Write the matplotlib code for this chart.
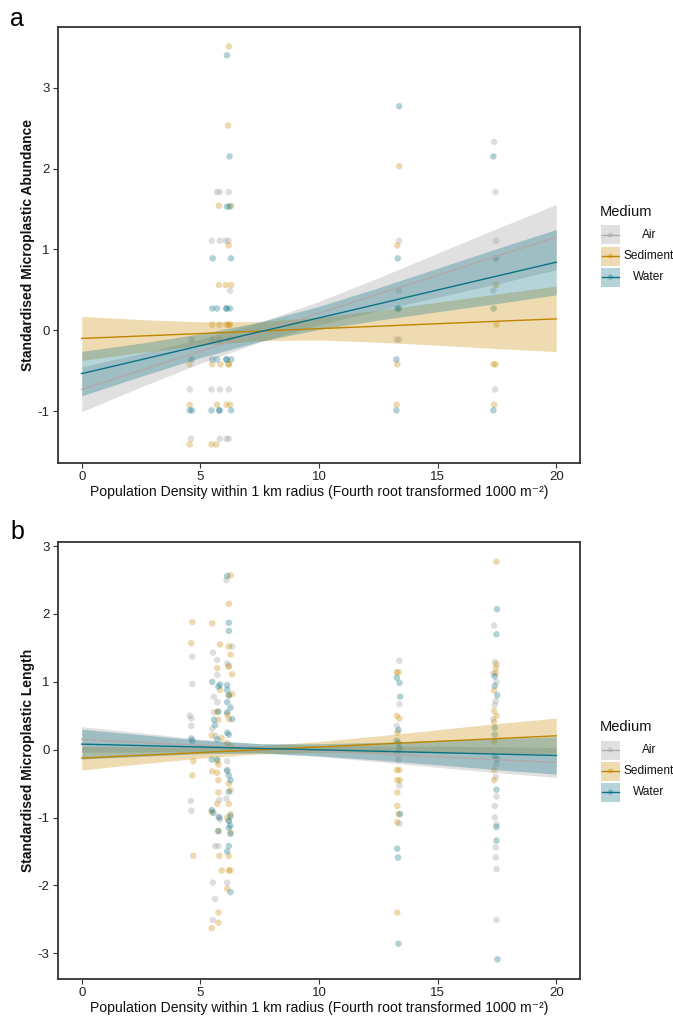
import matplotlib
matplotlib.use('Agg')
from matplotlib import pyplot as plt
from matplotlib.patches import Rectangle
import numpy as np

plt.rcParams['font.family'] = ['Liberation Sans', 'DejaVu Sans']
plt.rcParams['axes.unicode_minus'] = False  # plain hyphens like the original

# media and their colours
media = ['Air', 'Sediment', 'Water']
fill_cols = {'Air': '#999999', 'Sediment': '#C98A00', 'Water': '#0B7285'}
line_cols = {'Air': '#B3A8A8', 'Sediment': '#BF8500', 'Water': '#0A7385'}

xlabel = 'Population Density within 1 km radius (Fourth root transformed 1000 m\u207b\u00b2)'

# ---- panel a: abundance points ----
a_air_x = [5.70, 5.82, 6.19, 5.48, 5.82, 6.07, 6.19, 6.25, 4.63, 5.50, 5.80, 6.25,
           4.55, 5.47, 5.82, 6.20, 4.60, 5.82, 6.10, 6.20,
           17.38, 17.44, 13.37, 17.46, 13.36, 17.35, 13.27, 13.38, 17.42]
a_air_y = [1.71, 1.71, 1.71, 1.107, 1.107, 1.107, 1.107, 0.49, -0.115, -0.115, -0.115, -0.115,
           -0.73, -0.73, -0.73, -0.73, -1.34, -1.34, -1.34, -1.34,
           2.33, 1.71, 1.107, 1.107, 0.49, 0.49, -0.115, -0.115, -0.73]
a_sed_x = [6.20, 6.17, 5.78, 6.30, 6.19, 5.78, 6.07, 6.30, 5.50, 5.80, 6.10, 6.25, 6.20,
           4.55, 5.50, 5.85, 6.20, 6.20, 4.55, 5.70, 6.10, 6.25, 4.55, 5.47, 5.67,
           13.38, 13.30, 17.46, 17.48, 13.30, 17.36, 17.44, 13.27, 17.38]
a_sed_y = [3.51, 2.53, 1.54, 1.54, 1.05, 0.56, 0.56, 0.56, 0.07, 0.07, 0.07, 0.07, 0.07,
           -0.42, -0.42, -0.42, -0.42, -0.42, -0.92, -0.92, -0.92, -0.92, -1.41, -1.41, -1.41,
           2.03, 1.05, 0.56, 0.07, -0.42, -0.42, -0.42, -0.92, -0.92]
a_wat_x = [6.12, 6.23, 6.12, 6.23, 5.52, 6.29, 5.50, 5.70, 6.10, 6.25, 6.10,
           4.63, 5.50, 5.70, 6.10, 6.30, 6.10, 4.55, 4.65, 5.47, 5.80, 6.30, 5.80,
           13.38, 17.35, 13.32, 17.46, 13.30, 13.37, 17.36, 13.26, 13.26, 17.35]
a_wat_y = [3.40, 2.15, 1.53, 1.53, 0.89, 0.89, 0.27, 0.27, 0.27, 0.27, 0.27,
           -0.36, -0.36, -0.36, -0.36, -0.36, -0.36, -0.99, -0.99, -0.99, -0.99, -0.99, -0.99,
           2.77, 2.15, 0.89, 0.89, 0.27, 0.27, 0.27, -0.36, -0.99, -0.99]

# ---- panel b: length points ----
b_air_x = [4.66, 4.66, 4.55, 4.62, 4.62, 4.60, 4.62,
           6.10, 5.53, 6.34, 5.71, 6.13, 6.20, 5.71, 5.57, 5.71, 5.57, 5.50, 5.65, 6.13, 6.13,
           5.80, 6.10, 5.76, 5.83, 6.20, 5.62, 5.76, 5.52, 6.13, 5.62, 5.52,
           13.39, 13.39, 13.28, 13.30, 13.35, 13.39, 13.39,
           17.38, 17.41, 17.35, 17.48, 17.45, 17.41, 17.35, 17.48, 17.45, 17.48, 17.41,
           17.41, 17.48, 17.45, 17.45, 17.48, 17.48]
b_air_y = [1.37, 0.965, 0.50, 0.46, 0.35, -0.755, -0.90,
           2.50, 1.43, 1.52, 1.32, 1.27, 1.24, 1.10, 0.78, 0.70, 0.55, 0.31, 0.20, -0.17, -0.32,
           -0.74, -0.72, -0.99, -1.03, -1.05, -1.42, -1.42, -1.96, -1.96, -2.20, -2.51,
           1.31, 0.67, 0.35, -0.05, -0.15, -0.53, -1.09,
           1.83, 1.29, 1.12, 1.00, 0.72, 0.66, 0.45, -0.21, -0.40, -0.69, -0.83,
           -1.00, -1.10, -1.44, -1.59, -1.76, -2.51]
b_sed_x = [4.66, 4.62, 4.70, 4.66, 4.70,
           6.27, 6.20, 5.50, 5.83, 6.20, 6.27, 6.20, 5.71, 6.34, 5.83, 6.20, 6.34, 5.71, 6.13,
           6.20, 5.76, 5.48, 5.90, 6.13, 6.27, 5.71, 5.76, 5.50, 5.76, 5.71, 6.20, 6.27, 5.76,
           5.71, 5.48, 6.20, 6.27, 6.13, 5.76, 6.27, 5.80, 6.20, 5.90, 6.20, 6.27, 6.13, 5.76,
           5.76, 5.48,
           13.28, 13.35, 13.28, 13.39, 13.30, 13.28, 13.39, 13.30, 13.41, 13.30, 13.30, 13.35,
           13.30, 13.30,
           17.48, 17.48, 17.45, 17.45, 17.38, 17.38, 17.48, 17.38, 17.38, 17.38, 17.38]
b_sed_y = [1.88, 1.57, -0.17, -0.38, -1.565,
           2.57, 2.15, 1.86, 1.55, 1.52, 1.40, 1.22, 1.20, 1.11, 0.88, 0.80, 0.82, 0.56, 0.52,
           0.45, 0.44, 0.21, 0.17, 0.10, 0.05, -0.17, -0.22, -0.32, -0.45, -0.34, -0.50, -0.60, -0.63,
           -0.80, -0.92, -0.80, -0.95, -1.00, -1.20, -1.22, -1.565, -1.565, -1.78, -1.78, -1.78, -2.05, -2.40,
           -2.55, -2.63,
           1.14, 1.14, 0.50, 0.46, 0.25, -0.30, -0.30, -0.45, -0.45, -0.63, -0.83, -0.95,
           -1.07, -2.40,
           2.77, 1.26, 1.20, 1.13, 0.87, 0.57, 0.50, 0.41, 0.12, -0.30, -0.45]
b_wat_x = [4.62, 4.66,
           6.13, 6.20, 6.20, 5.50, 5.83, 5.76, 6.13, 6.13, 6.20, 5.76, 6.13, 6.27, 6.13, 6.34,
           5.57, 5.62, 6.20, 5.71, 6.13, 5.48, 5.71, 6.13, 6.20, 6.27, 6.20, 5.48, 5.55, 6.27,
           5.80, 6.20, 6.27, 5.76, 6.20, 6.27, 6.20, 6.13, 6.27,
           13.28, 13.39, 13.42, 13.35, 13.28, 13.35, 13.39, 13.42, 13.30, 13.33, 13.35,
           17.50, 17.48, 17.41, 17.41, 17.51, 17.41, 17.41, 17.41, 17.50, 17.48, 17.48, 17.48, 17.52]
b_wat_y = [0.165, 0.13,
           2.56, 1.87, 1.75, 1.00, 0.96, 0.93, 0.95, 0.88, 0.80, 0.56, 0.70, 0.62, 0.55, 0.45,
           0.44, 0.36, 0.22, 0.15, 0.25, -0.145, -0.145, -0.30, -0.38, -0.45, -0.62, -0.89, -0.93, -0.98,
           -1.00, -1.05, -1.12, -1.20, -1.15, -1.24, -1.42, -1.50, -2.10,
           1.06, 0.985, 0.78, 0.29, 0.13, 0.10, 0.02, -0.95, -1.46, -1.59, -2.86,
           2.07, 1.70, 1.08, 0.94, 0.80, 0.32, 0.22, -0.10, -0.14, -0.59, -1.14, -1.34, -3.09]

# ---- linear fits and confidence half-widths, read at these x positions ----
x_band = [0, 2.5, 5, 7.5, 10, 12.5, 15, 17.5, 20]

a_fit = {'Air':      [-0.728, -0.493, -0.258, -0.023, 0.212, 0.447, 0.682, 0.917, 1.152],
         'Sediment': [-0.10, -0.07, -0.04, -0.009, 0.021, 0.051, 0.082, 0.112, 0.142],
         'Water':    [-0.535, -0.363, -0.19, -0.018, 0.154, 0.326, 0.499, 0.671, 0.843]}
a_hw = {'Air':      [0.277, 0.207, 0.15, 0.122, 0.145, 0.202, 0.272, 0.342, 0.404],
        'Sediment': [0.273, 0.203, 0.145, 0.118, 0.14, 0.198, 0.266, 0.338, 0.405],
        'Water':    [0.275, 0.205, 0.147, 0.12, 0.143, 0.20, 0.269, 0.34, 0.404]}

b_fit = {'Air':      [0.15, 0.1075, 0.065, 0.0225, -0.02, -0.0625, -0.105, -0.1475, -0.19],
         'Sediment': [-0.125, -0.084, -0.043, -0.002, 0.04, 0.081, 0.122, 0.163, 0.204],
         'Water':    [0.081, 0.06, 0.039, 0.018, -0.003, -0.023, -0.044, -0.065, -0.086]}
b_hw = {'Air':      [0.19, 0.14, 0.09, 0.065, 0.08, 0.115, 0.155, 0.19, 0.22],
        'Sediment': [0.175, 0.125, 0.082, 0.06, 0.079, 0.122, 0.171, 0.222, 0.26],
        'Water':    [0.22, 0.16, 0.10, 0.07, 0.09, 0.13, 0.18, 0.23, 0.275]}

a_pts = {'Air': (a_air_x, a_air_y), 'Sediment': (a_sed_x, a_sed_y), 'Water': (a_wat_x, a_wat_y)}
b_pts = {'Air': (b_air_x, b_air_y), 'Sediment': (b_sed_x, b_sed_y), 'Water': (b_wat_x, b_wat_y)}

W, H = 673, 1017
fig = plt.figure(figsize=(W / 100, H / 100), dpi=100)


def panel(rect, pts, fit, hw, ylab, yticks, ylim, letter, letter_y, leg_top):
    ax = fig.add_axes(rect)
    # points first, ribbons drawn over them like geom_smooth
    for m in media:
        ax.scatter(pts[m][0], pts[m][1], s=22, color=fill_cols[m], alpha=0.32,
                   edgecolors='none', zorder=1)
    for m in media:
        f = np.array(fit[m])
        h = np.array(hw[m])
        ax.fill_between(x_band, f - h, f + h, color=fill_cols[m], alpha=0.3,
                        linewidth=0, zorder=2)
        ax.plot(x_band, f, color=line_cols[m], lw=1.0, zorder=3)
    ax.set_xlim(-1, 21)
    ax.set_ylim(*ylim)
    ax.set_xticks([0, 5, 10, 15, 20])
    ax.set_yticks(yticks)
    ax.tick_params(length=3.5, width=0.8, color='#333333', labelsize=9.5,
                   labelcolor='#222222', pad=2.5)
    ax.tick_params(axis='x', pad=2)
    for s in ax.spines.values():
        s.set_color('#333333')
        s.set_linewidth(1.3)
    ax.set_xlabel(xlabel, fontsize=10.1, color='#111111', labelpad=2)
    ax.set_ylabel(ylab, fontsize=10, fontweight='bold', color='#111111', labelpad=2)
    fig.text(10 / W, 1 - letter_y / H, letter, fontsize=18, va='center', ha='left')

    # legend, drawn by hand so labels can be centred like the original
    lg = fig.add_axes([597 / W, 1 - (leg_top + 90) / H, 76 / W, 90 / H])
    lg.set_xlim(0, 76)
    lg.set_ylim(90, 0)
    lg.axis('off')
    lg.text(3, 12, 'Medium', fontsize=10.5, va='center', ha='left', color='#111111')
    for i, m in enumerate(media):
        yc = 35 + 21 * i
        lg.add_patch(Rectangle((4, yc - 9.5), 19, 19, facecolor=fill_cols[m],
                               alpha=0.3, edgecolor='none'))
        lg.plot([5, 22], [yc, yc], color=line_cols[m], lw=1.0)
        lg.scatter([13.5], [yc], s=14, color=fill_cols[m], alpha=0.35, edgecolors='none')
        lg.text(52, yc, m, fontsize=8.6, va='center', ha='center', color='#111111')
    return ax


panel([58 / W, 1 - 463 / H, 522 / W, 436 / H], a_pts, a_fit, a_hw,
      'Standardised Microplastic Abundance', [-1, 0, 1, 2, 3], (-1.64, 3.75),
      'a', 19, 200)
panel([58 / W, 1 - 979 / H, 522 / W, 437 / H], b_pts, b_fit, b_hw,
      'Standardised Microplastic Length', [-3, -2, -1, 0, 1, 2, 3], (-3.38, 3.06),
      'b', 532, 715)

fig.savefig('out.png', dpi=100)
